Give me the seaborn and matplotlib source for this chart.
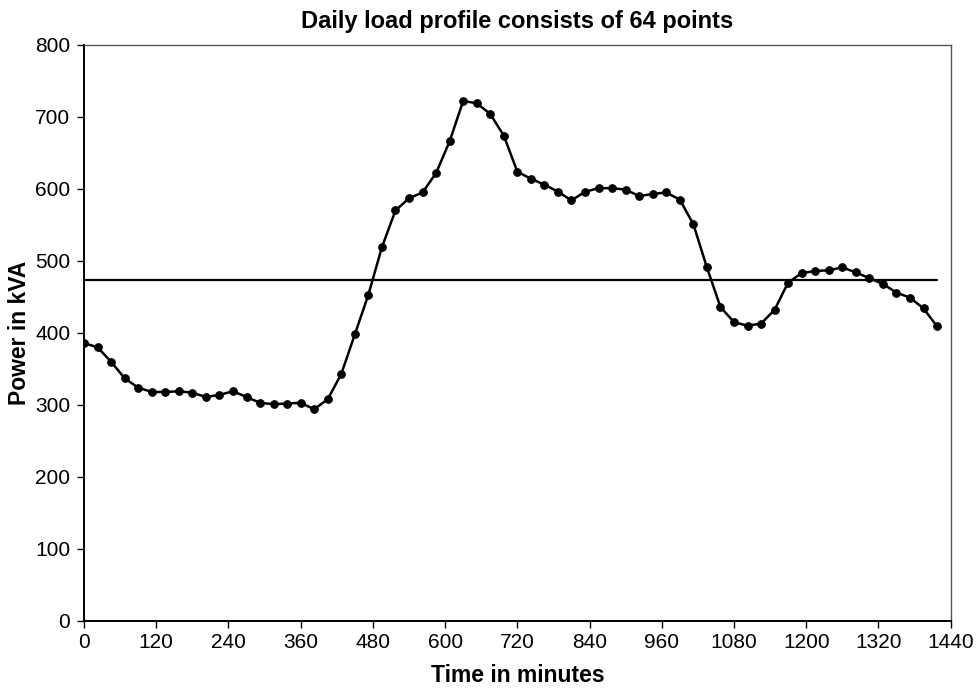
import matplotlib
matplotlib.use("Agg")
import matplotlib.pyplot as plt
import seaborn as sns
import numpy as np
import pandas as pd

# Data: 64 points, one every 22.5 minutes
step_min = 22.5
power_kva = [
    386, 380, 360, 337, 324, 318, 318, 319, 317, 311, 314, 319, 311, 303, 301, 302,
    303, 294, 308, 343, 398, 453, 519, 570, 587, 595, 622, 666, 722, 719, 704, 674,
    624, 614, 606, 596, 584, 596, 601, 601, 599, 590, 593, 595, 585, 551, 491, 436,
    415, 410, 413, 432, 470, 483, 486, 487, 491, 484, 476, 468, 456, 449, 434, 409,
]
time_min = [i * step_min for i in range(len(power_kva))]
mean_level = [473, 473]
mean_span = [time_min[0], time_min[-1]]
x_ticks = list(range(0, 1441, 120))
y_ticks = list(range(0, 801, 100))

df = pd.DataFrame({"time": time_min, "power": power_kva})
df_mean = pd.DataFrame({"time": mean_span, "power": mean_level})

sns.set_theme(style="white")
plt.rcParams["font.family"] = ["Liberation Sans", "DejaVu Sans"]
plt.rcParams["text.color"] = "black"
plt.rcParams["axes.labelcolor"] = "black"

fig = plt.figure(figsize=(9.77, 6.9), dpi=100)
ax = fig.add_axes([0.086, 0.1, 0.887, 0.835])

sns.lineplot(data=df_mean, x="time", y="power", color="black", linewidth=1.6, ax=ax)
sns.lineplot(data=df, x="time", y="power", color="black", linewidth=1.8,
             marker="o", markersize=5.5, markeredgecolor="black", ax=ax)

ax.set_xlim(0, 1440)
ax.set_ylim(0, 800)
ax.set_xticks(x_ticks)
ax.set_yticks(y_ticks)
ax.tick_params(axis="both", direction="out", length=5, width=1, colors="black",
               labelsize=15, bottom=True, left=True)
ax.tick_params(axis="x", pad=4)
ax.tick_params(axis="y", pad=5)
for s in ax.spines.values():
    s.set_color("#555555")
    s.set_linewidth(1.0)
ax.spines["left"].set_color("black")
ax.spines["bottom"].set_color("black")
ax.spines["left"].set_linewidth(1.4)
ax.spines["bottom"].set_linewidth(1.4)

ax.set_title("Daily load profile consists of 64 points", fontsize=17, fontweight="bold",
             color="black", pad=12)
ax.set_xlabel("Time in minutes", fontsize=16.5, fontweight="bold", color="black", labelpad=8)
ax.set_ylabel("Power in kVA", fontsize=16.5, fontweight="bold", color="black", labelpad=3)

fig.savefig("out.png", dpi=100)
